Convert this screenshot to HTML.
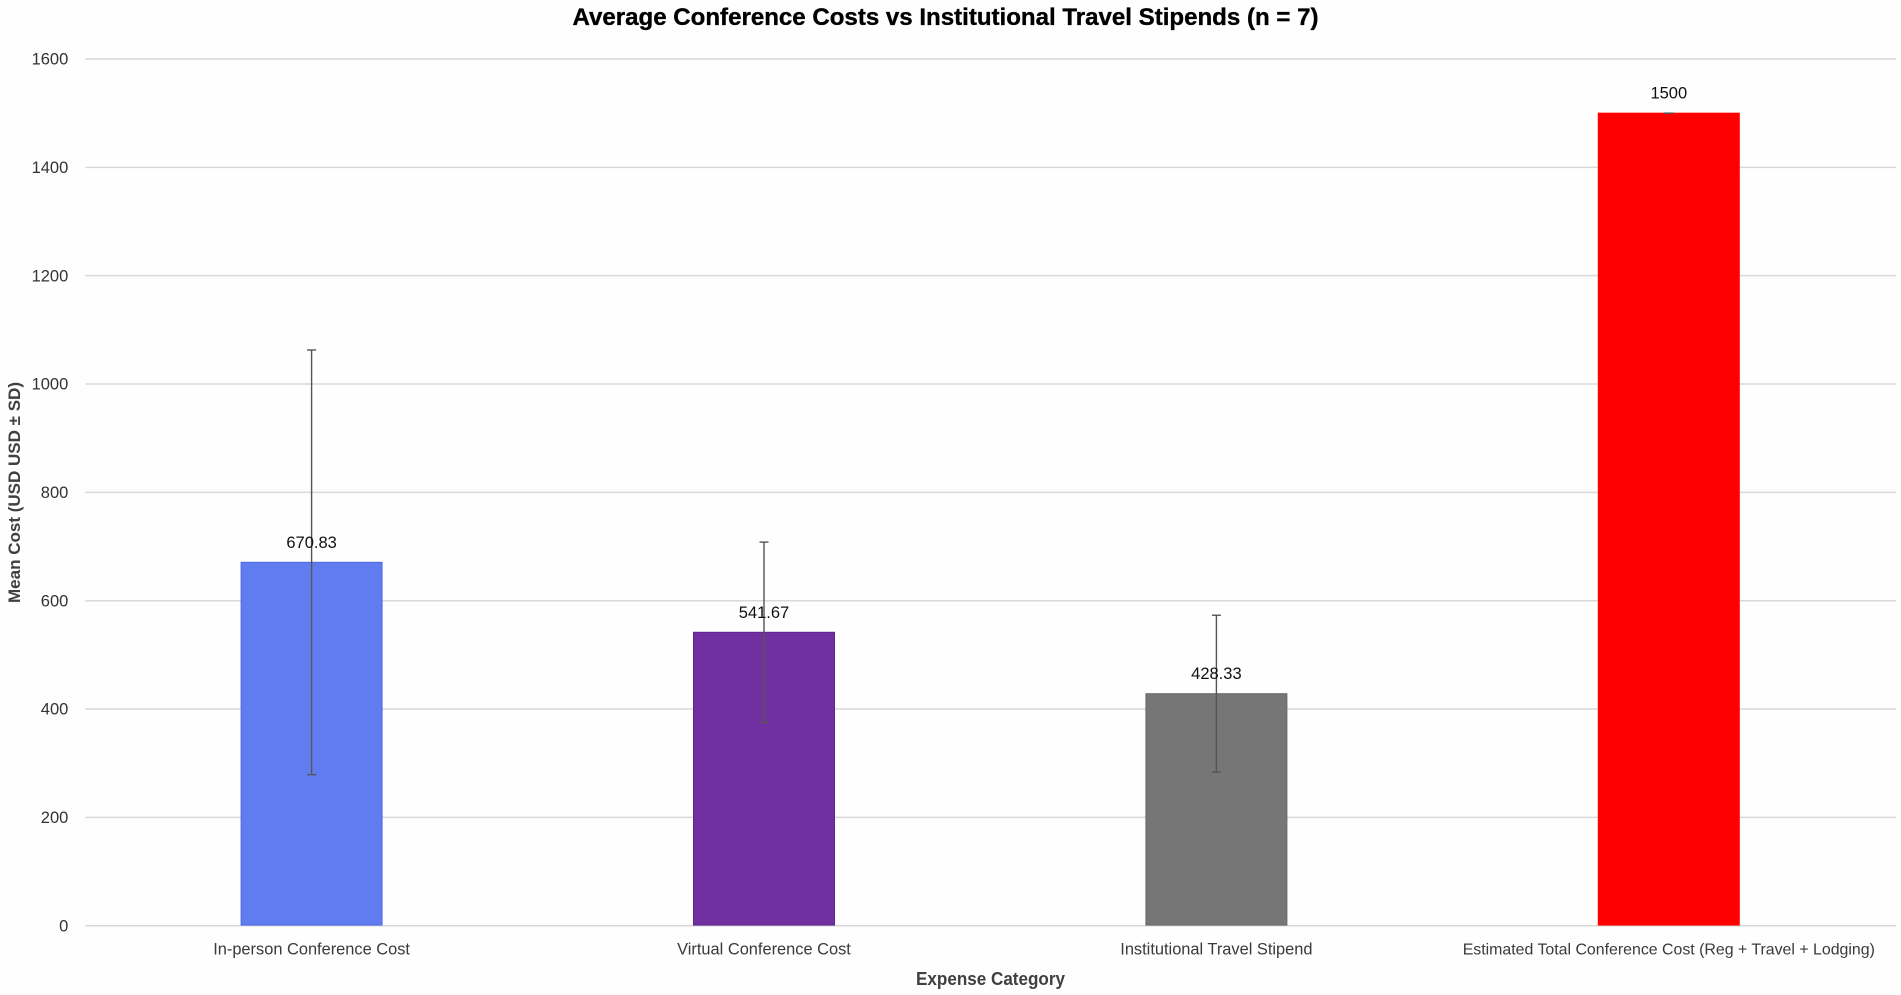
<!DOCTYPE html>
<html lang="en">
<head>
<meta charset="utf-8">
<title>Average Conference Costs vs Institutional Travel Stipends</title>
<style>
  html, body { margin: 0; padding: 0; background: #fefefe; }
  body { width: 1901px; height: 995px; overflow: hidden; }
  svg { display: block; font-family: "Liberation Sans", sans-serif; }
</style>
</head>
<body>
<svg id="chart" width="1901" height="995" viewBox="0 0 1901 995" xmlns="http://www.w3.org/2000/svg">
  <rect x="0" y="0" width="1901" height="995" fill="#fefefe"/>
  <text x="945.5" y="25" text-anchor="middle" font-size="24" font-weight="700" fill="#000" stroke="#000" stroke-width="0.35" textLength="746" lengthAdjust="spacingAndGlyphs">Average Conference Costs vs Institutional Travel Stipends (n = 7)</text>
  <g id="grid"></g>
  <g id="yticks"></g>
  <g id="bars"></g>
  <g id="errors"></g>
  <g id="values"></g>
  <g id="xticks"></g>
  <text transform="translate(20 492.5) rotate(-90)" text-anchor="middle" font-size="17" font-weight="700" fill="#404040" textLength="221" lengthAdjust="spacingAndGlyphs">Mean Cost (USD USD ± SD)</text>
  <text x="990.5" y="985" text-anchor="middle" font-size="18" font-weight="700" fill="#404040" textLength="149" lengthAdjust="spacingAndGlyphs">Expense Category</text>
</svg>
<script>
const categories = ["In-person Conference Cost", "Virtual Conference Cost", "Institutional Travel Stipend", "Estimated Total Conference Cost (Reg + Travel + Lodging)"];
const meanCosts = [670.83, 541.67, 428.33, 1500];
const sdCosts = [392, 166.5, 144.8, 0];
const yTicks = [0, 200, 400, 600, 800, 1000, 1200, 1400, 1600];
const barKeys = ["in-person", "virtual", "stipend", "total"];
const barFills = ["#617cf0", "#7030a0", "#767676", "#ff0000"];
const barEdges = ["#4f6ae0", "#5f2490", "#6a6a6a", "#ff0000"];

const NS = "http://www.w3.org/2000/svg";
const plotLeft = 85.4, plotRight = 1896, bandWidth = 452.4, barWidth = 141;
const yZero = 925.7, yTop = 59, yMax = 1600;
const xCenter = i => plotLeft + bandWidth * (i + 0.5);
const yPos = v => yZero - (v / yMax) * (yZero - yTop);

function make(tag, parent, attrs) {
  const el = document.createElementNS(NS, tag);
  for (const k in attrs) el.setAttribute(k, attrs[k]);
  parent.appendChild(el);
  return el;
}

const grid = document.getElementById("grid");
const yticks = document.getElementById("yticks");
yTicks.forEach(t => {
  const y = yPos(t);
  const line = make("line", grid, { x1: plotLeft, x2: plotRight, y1: y, y2: y, stroke: "#d9d9d9", "stroke-width": 1.5 });
  
  
  const label = make("text", yticks, { x: 68.3, y: y + 5.6, "text-anchor": "end", "font-size": 16.5, fill: "#333" });
  
  
  label.textContent = String(t);
});

const bars = document.getElementById("bars");
const errors = document.getElementById("errors");
const values = document.getElementById("values");
const xticks = document.getElementById("xticks");
categories.forEach((name, i) => {
  const cx = xCenter(i);
  const mean = meanCosts[i];
  const sd = sdCosts[i];
  const top = yPos(mean);

  const bar = make("rect", bars, { x: cx - barWidth / 2, y: top, width: barWidth, height: yZero - top - 0.6, fill: barFills[i], stroke: barEdges[i], "stroke-width": 1 });
  
  

  const yHi = yPos(mean + sd);
  const yLo = yPos(mean - sd);
  const stem = make("line", errors, { x1: cx, x2: cx, y1: yHi, y2: yLo, stroke: "#555", "stroke-width": 1.4 });
  
  
  const capHi = make("line", errors, { x1: cx - 4.5, x2: cx + 4.5, y1: yHi, y2: yHi, stroke: "#555", "stroke-width": 1.4 });
  
  
  const capLo = make("line", errors, { x1: cx - 4.5, x2: cx + 4.5, y1: yLo, y2: yLo, stroke: "#555", "stroke-width": 1.4 });
  
  

  const val = make("text", values, { x: cx, y: top - 14.5, "text-anchor": "middle", "font-size": 16.5, fill: "#111" });
  
  
  val.textContent = String(mean);

  const cat = make("text", xticks, { x: cx, y: 954.5, "text-anchor": "middle", "font-size": name.length > 40 ? 15.9 : 16.4, fill: "#3a3a3a" });
  
  
  cat.textContent = name;
});
</script>
</body>
</html>
